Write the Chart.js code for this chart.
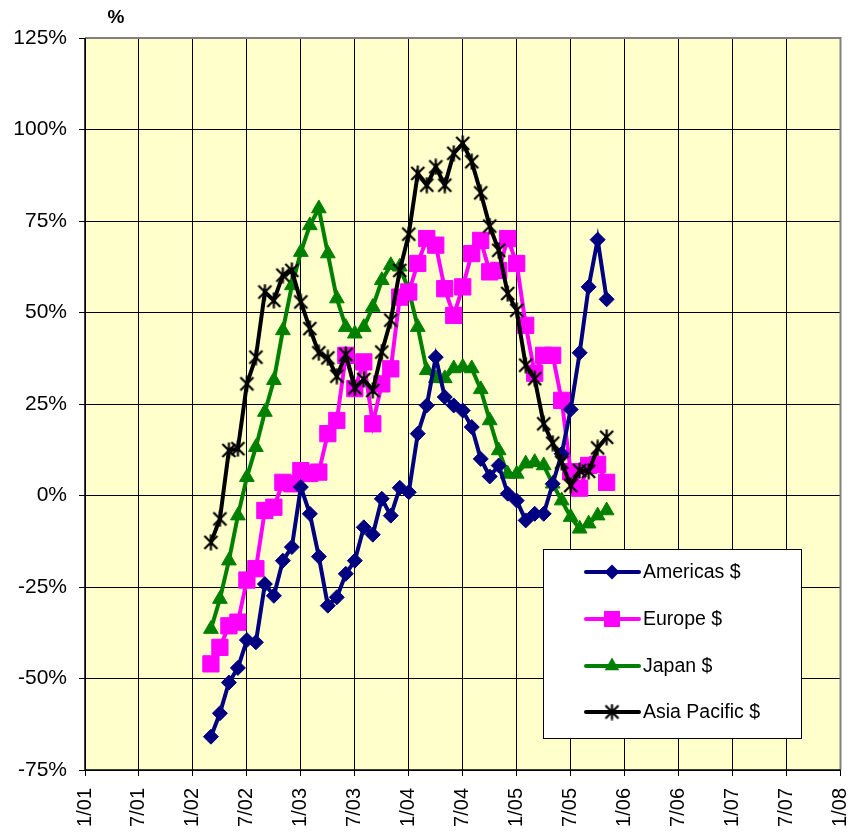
<!DOCTYPE html>
<html><head><meta charset="utf-8">
<script src="https://cdn.jsdelivr.net/npm/chart.js@4/dist/chart.umd.min.js"></script>
<style>html,body{margin:0;padding:0;background:#fff;}#wrap{position:relative;width:853px;height:835px;}</style>
</head><body><div id="wrap"><canvas id="c" width="853" height="835"></canvas></div>
<script>
// Months (m/yy) for each observation
const months = ['3/02','4/02','5/02','6/02','7/02','8/02','9/02','10/02','11/02','12/02',
  '1/03','2/03','3/03','4/03','5/03','6/03','7/03','8/03','9/03','10/03','11/03','12/03',
  '1/04','2/04','3/04','4/04','5/04','6/04','7/04','8/04','9/04','10/04','11/04','12/04',
  '1/05','2/05','3/05','4/05','5/05','6/05','7/05','8/05','9/05','10/05','11/05'];
const americas = [-65.9,-59.5,-51.1,-47.1,-39.5,-40.1,-24.2,-27.4,-17.8,-14.1,
  2.3,-5.0,-16.7,-30.1,-27.8,-21.4,-17.8,-8.7,-10.7,-0.9,-5.5,2.1,
  0.9,16.9,24.6,37.8,26.9,24.6,23.2,18.7,10.0,5.2,8.2,0.5,
  -1.4,-6.8,-5.0,-5.0,3.2,11.4,23.5,39.0,57.0,69.9,53.6];
const europe = [-46.0,-41.5,-35.6,-34.6,-23.1,-20.0,-4.1,-3.2,3.6,3.2,
  6.8,6.0,6.4,16.9,20.5,38.3,29.2,36.5,19.6,30.5,34.6,54.2,
  55.6,63.4,70.2,68.4,56.5,49.2,57.0,66.1,69.7,61.1,61.5,70.2,
  63.4,46.5,33.4,38.3,38.3,26.0,6.5,2.0,8.2,8.5,3.6];
const japan = [-36.5,-28.3,-17.8,-5.5,5.0,13.2,22.8,31.5,45.1,57.4,
  66.5,73.8,78.4,66.1,53.8,46.0,44.2,46.0,51.5,58.8,62.9,62.5,
  56.1,46.0,34.2,32.0,32.0,34.7,35.1,34.7,29.0,20.5,12.3,5.9,
  5.9,8.7,9.1,8.2,3.2,-1.4,-5.9,-9.1,-7.7,-5.5,-4.1];
const asiaPacific = [-12.8,-6.4,12.3,12.8,30.5,37.8,55.6,53.3,60.2,61.5,
  52.9,45.6,39.0,37.6,32.6,38.5,29.4,31.7,28.7,39.2,47.9,61.5,
  71.4,88.0,84.8,89.8,84.8,93.5,96.2,91.2,82.7,73.6,67.0,55.2,
  50.6,35.6,31.9,19.6,14.3,9.1,2.7,6.8,6.6,13.0,15.9];
const seriesNames = ['Americas $','Europe $','Japan $','Asia Pacific $'];
const xTickLabels = ['1/01','7/01','1/02','7/02','1/03','7/03','1/04','7/04','1/05','7/05','1/06','7/06','1/07','7/07','1/08'];
const yMin = -75, yMax = 125, yStep = 25;

function monthIndex(s){ const p = s.split('/'); return (parseInt(p[1],10)-1)*12 + (parseInt(p[0],10)-1); }
function toPoints(vals){ return vals.map((v,i)=>({x: monthIndex(months[i]), y: v})); }

// asterisk marker
function makeAsterisk(size){
  const c = document.createElement('canvas'); c.width = size; c.height = size;
  const g = c.getContext('2d'); g.strokeStyle = '#000'; g.lineWidth = 2.2; g.lineCap='butt';
  const m = 2, s = size;
  g.beginPath();
  g.moveTo(m,m); g.lineTo(s-m,s-m);
  g.moveTo(s-m,m); g.lineTo(m,s-m);
  g.moveTo(s/2,0.5); g.lineTo(s/2,s-0.5);
  g.stroke();
  return c;
}
const asterisk = makeAsterisk(17);

const FONT = "'Liberation Sans', Arial, sans-serif";

const datasets = [
  {label: seriesNames[0], data: toPoints(americas), borderColor:'#000080', backgroundColor:'#000080', pointStyle:'rectRot', pointRadius:7.5, order:1},
  {label: seriesNames[1], data: toPoints(europe), borderColor:'#FF00FF', backgroundColor:'#FF00FF', pointStyle:'rect', pointRadius:11.5, order:2},
  {label: seriesNames[2], data: toPoints(japan), borderColor:'#008000', backgroundColor:'#008000', pointStyle:'triangle', pointRadius:8.5, order:3},
  {label: seriesNames[3], data: toPoints(asiaPacific), borderColor:'#000000', backgroundColor:'#000000', pointStyle:asterisk, pointRadius:8, order:0}
];
datasets.forEach(d=>{ d.borderWidth = 4; d.pointBorderWidth = 1; d.pointHoverRadius = d.pointRadius; d.tension = 0; d.pointBorderColor = d.borderColor; d.pointBackgroundColor = d.backgroundColor; });

const bgPlugin = {
  id:'bg',
  beforeDraw(chart){
    const {ctx, chartArea:a} = chart;
    ctx.save(); ctx.fillStyle = '#FFFFCC'; ctx.fillRect(a.left, a.top, a.right-a.left, a.bottom-a.top); ctx.restore();
  },
  beforeDatasetsDraw(chart){
    const {ctx, chartArea:a} = chart;
    ctx.save(); ctx.strokeStyle = '#808080'; ctx.lineWidth = 2;
    ctx.beginPath(); ctx.moveTo(a.left, a.top); ctx.lineTo(a.right, a.top); ctx.lineTo(a.right, a.bottom); ctx.stroke();
    ctx.strokeStyle = '#000'; ctx.lineWidth = 1.5;
    ctx.beginPath(); ctx.moveTo(a.left, a.top); ctx.lineTo(a.left, a.bottom); ctx.lineTo(a.right, a.bottom); ctx.stroke();
    ctx.restore();
    ctx.save(); ctx.fillStyle = '#000'; ctx.font = "bold 19px " + FONT; ctx.textAlign='center'; ctx.textBaseline='middle';
    ctx.fillText('%', 116, 18); ctx.restore();
  },
  afterDraw(chart){
    const ctx = chart.ctx;
    const bx = 543, by = 549, bw = 258, bh = 189;
    ctx.save();
    ctx.fillStyle = '#fff'; ctx.fillRect(bx, by, bw, bh);
    ctx.strokeStyle = '#000'; ctx.lineWidth = 1; ctx.strokeRect(bx+0.5, by+0.5, bw, bh);
    const ys = [572, 619, 666, 712];
    chart.data.datasets.forEach((d, i)=>{
      const y = ys[i];
      ctx.strokeStyle = d.borderColor; ctx.lineWidth = 4; ctx.lineCap = 'round';
      ctx.beginPath(); ctx.moveTo(586, y); ctx.lineTo(639, y); ctx.stroke();
      const cx = 612;
      ctx.fillStyle = d.backgroundColor;
      ctx.beginPath();
      if (d.pointStyle === 'rectRot'){ const r = 7.5; ctx.moveTo(cx-r,y); ctx.lineTo(cx,y-r); ctx.lineTo(cx+r,y); ctx.lineTo(cx,y+r); ctx.closePath(); ctx.fill(); }
      else if (d.pointStyle === 'rect'){ const h = 8; ctx.rect(cx-h, y-h, 2*h, 2*h); ctx.fill(); }
      else if (d.pointStyle === 'triangle'){ const r = 8.5; ctx.moveTo(cx, y-r); ctx.lineTo(cx+r*0.866, y+r/2); ctx.lineTo(cx-r*0.866, y+r/2); ctx.closePath(); ctx.fill(); }
      else { ctx.drawImage(asterisk, cx-8.5, y-8.5); }
      ctx.fillStyle = '#000'; ctx.font = "19.5px " + FONT; ctx.textAlign = 'left'; ctx.textBaseline = 'middle';
      ctx.fillText(d.label, 643, y+1);
    });
    ctx.restore();
  }
};

new Chart(document.getElementById('c'), {
  type:'line',
  data:{datasets},
  options:{
    responsive:false, animation:false, devicePixelRatio:1,
    layout:{padding:{top:38, right:11, left:0, bottom:0}},
    plugins:{legend:{display:false}, tooltip:{enabled:false}},
    events:[],
    scales:{
      x:{type:'linear', min:0, max:84,
        afterBuildTicks(s){ s.ticks = xTickLabels.map((_,i)=>({value:i*6})); },
        ticks:{autoSkip:false, minRotation:90, maxRotation:90, color:'#000', font:{family:FONT, size:20}, padding:12,
          callback:(v)=> xTickLabels[Math.round(v/6)]},
        grid:{color:'#000', lineWidth:1, tickLength:6, drawTicks:true},
        border:{color:'#000', width:1},
        afterFit(s){ s.height = 65; s.paddingLeft = 0; s.paddingRight = 0; s.paddingTop = 0; s.paddingBottom = 0; }
      },
      y:{type:'linear', min:yMin, max:yMax,
        ticks:{stepSize:yStep, color:'#000', font:{family:FONT, size:21}, padding:12, callback:(v)=> v+'%'},
        grid:{color:'#000', lineWidth:1, tickLength:6, drawTicks:true},
        border:{color:'#000', width:1},
        afterFit(s){ s.width = 85; s.paddingTop = 0; s.paddingBottom = 0; }
      }
    }
  },
  plugins:[bgPlugin]
});
</script></body></html>
